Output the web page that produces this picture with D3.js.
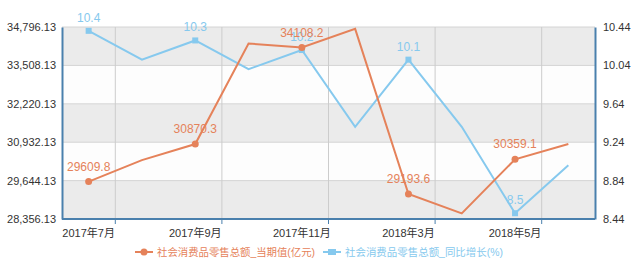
<!DOCTYPE html>
<html>
<head>
<meta charset="utf-8">
<script src="https://cdn.jsdelivr.net/npm/d3@7"></script>
<style>
  body { margin: 0; background: #fff; }
  text { font-family: "Liberation Sans", Arial, "Noto Sans CJK SC", sans-serif; }
</style>
</head>
<body>
<div id="chart"></div>
<script>
var months = ["2017年7月", "2017年8月", "2017年9月", "2017年10月", "2017年11月", "2017年12月", "2018年3月", "2018年4月", "2018年5月", "2018年6月"];
var retailValue = [29609.8, 30329.7, 30870.3, 34240.9, 34108.2, 34734.1, 29193.6, 28541.9, 30359.1, 30870.0];
var retailGrowth = [10.4, 10.1, 10.3, 10.0, 10.2, 9.4, 10.1, 9.4, 8.5, 9.0];
var leftTicks = [28356.13, 29644.13, 30932.13, 32220.13, 33508.13, 34796.13];
var rightTicks = [8.44, 8.84, 9.24, 9.64, 10.04, 10.44];
var seriesNames = ["社会消费品零售总额_当期值(亿元)", "社会消费品零售总额_同比增长(%)"];

var W = 640, H = 274;
var margin = { top: 27, right: 45, bottom: 55, left: 62 };
var width = W - margin.left - margin.right,
    height = H - margin.top - margin.bottom;
var orange = "#e5825a", blue = "#86c9ee", axisColor = "#4a80ad";

var svg = d3.select("#chart").append("svg")
    .attr("width", W).attr("height", H);
var g = svg.append("g")
    .attr("transform", "translate(" + margin.left + "," + margin.top + ")");

var x = d3.scaleBand().domain(months).range([0, width]);
var yL = d3.scaleLinear().domain([leftTicks[0], leftTicks[leftTicks.length - 1]]).range([height, 0]);
var yR = d3.scaleLinear().domain([rightTicks[0], rightTicks[rightTicks.length - 1]]).range([height, 0]);
function cx(d) { return x(d) + x.bandwidth() / 2; }

// alternating background bands
for (var i = 0; i < leftTicks.length - 1; i++) {
    g.append("rect")
        .attr("x", 0).attr("width", width)
        .attr("y", yL(leftTicks[i + 1]))
        .attr("height", yL(leftTicks[i]) - yL(leftTicks[i + 1]))
        .attr("fill", (leftTicks.length - 2 - i) % 2 === 0 ? "#ebebeb" : "#fdfdfd");
}

// horizontal grid
g.selectAll(".hgrid").data(leftTicks).enter().append("line")
    .attr("x1", 0).attr("x2", width)
    .attr("y1", function(d) { return yL(d); })
    .attr("y2", function(d) { return yL(d); })
    .attr("stroke", "#d4d4d4");

// vertical grid at every other band boundary
var labelled = months.filter(function(d, i) { return i % 2 === 0; });
g.selectAll(".vgrid").data(labelled).enter().append("line")
    .attr("x1", function(d) { return x(d) + x.bandwidth(); })
    .attr("x2", function(d) { return x(d) + x.bandwidth(); })
    .attr("y1", 0).attr("y2", height)
    .attr("stroke", "#cccccc");

// axes
var fmt = d3.format(",.2f");
g.append("g")
    .call(d3.axisLeft(yL).tickValues(leftTicks).tickFormat(fmt).tickSize(0).tickPadding(6))
    .call(function(a) {
        a.select(".domain").attr("stroke", axisColor).attr("stroke-width", 2);
        a.selectAll("text").attr("font-size", 11).attr("fill", "#333");
    });
g.append("g")
    .attr("transform", "translate(" + width + ",0)")
    .call(d3.axisRight(yR).tickValues(rightTicks).tickFormat(d3.format(".2f")).tickSize(0).tickPadding(8))
    .call(function(a) {
        a.select(".domain").attr("stroke", axisColor).attr("stroke-width", 2);
        a.selectAll("text").attr("font-size", 11).attr("fill", "#333");
    });
var xa = g.append("g").attr("transform", "translate(0," + height + ")");
xa.append("line").attr("x1", 0).attr("x2", width).attr("stroke", axisColor).attr("stroke-width", 2);
xa.selectAll(".tk").data(labelled).enter().append("line")
    .attr("x1", function(d) { return x(d) + x.bandwidth(); })
    .attr("x2", function(d) { return x(d) + x.bandwidth(); })
    .attr("y1", 0).attr("y2", 5)
    .attr("stroke", axisColor);
xa.selectAll(".lb").data(labelled).enter().append("text")
    .attr("x", cx).attr("y", 18)
    .attr("text-anchor", "middle")
    .attr("font-size", 11).attr("fill", "#333")
    .text(function(d) { return d; });

// lines
var lineL = d3.line().x(function(d, i) { return cx(months[i]); }).y(function(d) { return yL(d); });
var lineR = d3.line().x(function(d, i) { return cx(months[i]); }).y(function(d) { return yR(d); });
g.append("path").datum(retailGrowth).attr("d", lineR)
    .attr("fill", "none").attr("stroke", blue).attr("stroke-width", 2);
g.append("path").datum(retailValue).attr("d", lineL)
    .attr("fill", "none").attr("stroke", orange).attr("stroke-width", 2);

// markers + labels on every other point
retailGrowth.forEach(function(v, i) {
    if (i % 2) return;
    g.append("rect").attr("x", cx(months[i]) - 3).attr("y", yR(v) - 3)
        .attr("width", 6).attr("height", 6).attr("fill", blue);
    g.append("text").attr("x", cx(months[i])).attr("y", yR(v) - 9)
        .attr("text-anchor", "middle").attr("font-size", 12).attr("fill", blue)
        .text(v.toFixed(1));
});
retailValue.forEach(function(v, i) {
    if (i % 2) return;
    g.append("circle").attr("cx", cx(months[i])).attr("cy", yL(v))
        .attr("r", 3.5).attr("fill", orange);
    g.append("text").attr("x", cx(months[i])).attr("y", yL(v) - 11)
        .attr("text-anchor", "middle").attr("font-size", 12).attr("fill", orange)
        .text(v.toFixed(1));
});

// legend
var legend = svg.append("g").attr("transform", "translate(0,252)");
var items = [
    { name: seriesNames[0], color: orange, x: 135, shape: "circle" },
    { name: seriesNames[1], color: blue, x: 323, shape: "rect" }
];
items.forEach(function(it) {
    legend.append("line").attr("x1", it.x).attr("x2", it.x + 18)
        .attr("y1", 0).attr("y2", 0).attr("stroke", it.color).attr("stroke-width", 2);
    if (it.shape === "circle") {
        legend.append("circle").attr("cx", it.x + 9).attr("cy", 0).attr("r", 3.5).attr("fill", it.color);
    } else {
        legend.append("rect").attr("x", it.x + 5).attr("y", -3).attr("width", 8).attr("height", 6).attr("fill", it.color);
    }
    legend.append("text").attr("x", it.x + 22).attr("y", 4)
        .attr("font-size", 10.3).attr("fill", it.color)
        .attr("textLength", 158).attr("lengthAdjust", "spacingAndGlyphs")
        .text(it.name);
});
</script>
</body>
</html>
